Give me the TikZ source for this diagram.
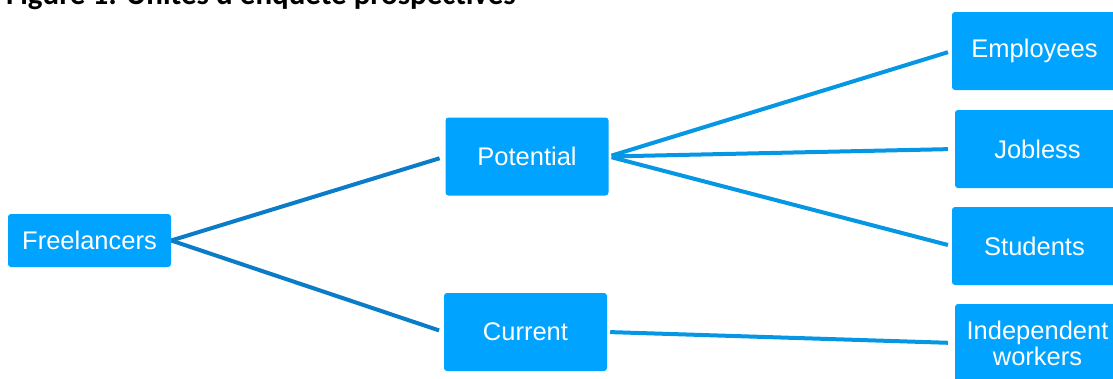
\documentclass[tikz,border=0pt]{standalone}
\usepackage{fontspec}
\setmainfont{Liberation Sans}
\newfontfamily\titlefont{Carlito}
\usepackage{xcolor}
\usetikzlibrary{positioning}
\definecolor{boxblue}{RGB}{0,163,255}
\definecolor{linkdark}{RGB}{10,124,200}
\definecolor{linklight}{RGB}{5,150,228}
\begin{document}
\begin{tikzpicture}[
    x=1pt, y=-1pt,
    % Styles
    rootbox/.style={rectangle, fill=boxblue, text=white, minimum width=163pt, minimum height=53pt, inner sep=0pt, align=center, rounded corners=3pt, font=\fontsize{25.5}{27}\selectfont},
    catbox/.style={rootbox, minimum width=163pt, minimum height=78pt},
    leafbox/.style={rootbox, minimum width=165pt, minimum height=78pt},
    linkdark/.style={draw=linkdark, line width=4pt},
    linklight/.style={draw=linklight, line width=4pt, shorten <=3pt}
]
\useasboundingbox (0,0) rectangle (1113,378);

% Title (cut at the top)
\node[anchor=base east, inner sep=0pt, font=\titlefont\bfseries\fontsize{31}{34}\selectfont] (title) at (516,4) {Figure 1: Unités d'enquête prospectives};

% Root
\node[rootbox] (free) at (89.5,240.5) {Freelancers};

% Categories
\node[catbox] (potential) at (527,156.5) {Potential};
\node[catbox] (current) at (525.5,332) {Current};

% Leaves
\node[leafbox] (employees) at (1034.5,51) {Employees};
\node[leafbox] (jobless) at (1037.5,149) {Jobless};
\node[leafbox] (students) at (1034.5,246) {Students};
\node[leafbox, align=center] (indep) at (1037.5,343) {Independent\\[-1pt]workers};

% Links
\draw[linkdark, shorten >=6pt] (free.east) -- (potential.west);
\draw[linkdark, shorten >=5pt] (free.east) -- (current.west);
\draw[linklight, shorten >=4pt] (potential.east) -- (employees.west);
\draw[linklight, shorten >=7pt] (potential.east) -- (jobless.west);
\draw[linklight, shorten >=4pt] (potential.east) -- (students.west);
\draw[linklight, shorten >=7pt] (current.east) -- (indep.west);

\end{tikzpicture}
\end{document}
